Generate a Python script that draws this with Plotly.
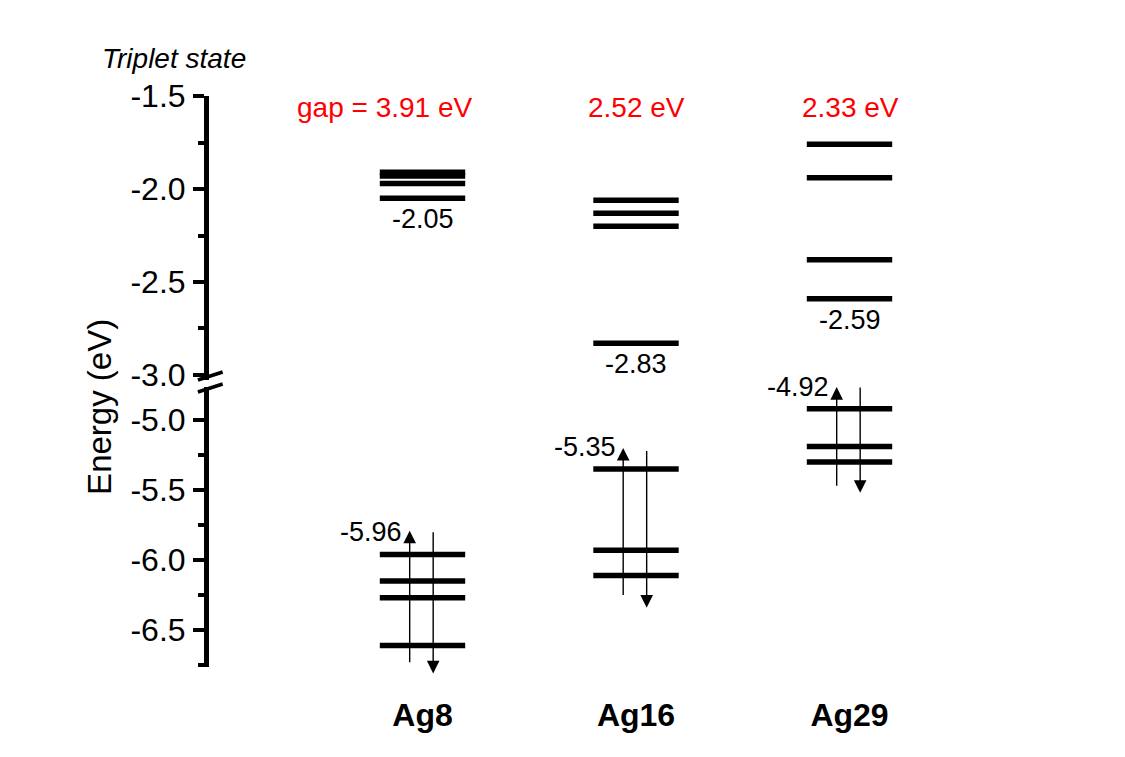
import plotly.graph_objects as go

# Triplet-state frontier orbital energies (eV) of the silver clusters
clusters = ["Ag8", "Ag16", "Ag29"]
lumo_levels = {
    "Ag8": [-1.91, -1.93, -1.97, -2.05],
    "Ag16": [-2.06, -2.13, -2.20, -2.83],
    "Ag29": [-1.76, -1.94, -2.38, -2.59],
}
homo_levels = {
    "Ag8": [-5.96, -6.15, -6.27, -6.61],
    "Ag16": [-5.35, -5.93, -6.11],
    "Ag29": [-4.92, -5.19, -5.30],
}
# labelled frontier levels (lowest LUMO, highest HOMO)
lumo_label = {"Ag8": -2.05, "Ag16": -2.83, "Ag29": -2.59}
homo_label = {"Ag8": -5.96, "Ag16": -5.35, "Ag29": -4.92}

# spin-up / spin-down arrows: (start, end) energies
spin_up = {"Ag8": (-6.74, -5.79), "Ag16": (-6.26, -5.20), "Ag29": (-5.48, -4.765)}
spin_down = {"Ag8": (-5.79, -6.81), "Ag16": (-5.21, -6.34), "Ag29": (-4.757, -5.52)}

upper_ticks = [-1.5, -2.0, -2.5, -3.0]
lower_ticks = [-5.0, -5.5, -6.0, -6.5]

FONT = "Arial, Liberation Sans, sans-serif"
HALF = 0.2          # half width of a level bar (x units)
LEVEL_W = 5.5

fig = go.Figure()

for i, name in enumerate(clusters, start=1):
    xs, ys = [], []
    for e in lumo_levels[name]:
        xs += [i - HALF, i + HALF, None]
        ys += [e, e, None]
    fig.add_trace(go.Scatter(x=xs, y=ys, mode="lines", yaxis="y2",
                             line=dict(color="black", width=LEVEL_W),
                             hoverinfo="skip", showlegend=False))
    xs, ys = [], []
    for e in homo_levels[name]:
        xs += [i - HALF, i + HALF, None]
        ys += [e, e, None]
    fig.add_trace(go.Scatter(x=xs, y=ys, mode="lines", yaxis="y",
                             line=dict(color="black", width=LEVEL_W),
                             hoverinfo="skip", showlegend=False))

annotations = []
for i, name in enumerate(clusters, start=1):
    lu, ho = lumo_label[name], homo_label[name]
    # LUMO value under the lowest unoccupied level
    annotations.append(dict(x=i, y=lu, xref="x", yref="y2", text=f"{lu:.2f}",
                            showarrow=False, xanchor="center", yanchor="top",
                            yshift=-4, font=dict(size=27, color="black")))
    # HOMO value to the upper left of the highest occupied level
    annotations.append(dict(x=i - 0.085, y=ho, xref="x", yref="y", text=f"{ho:.2f}",
                            showarrow=False, xanchor="right", yanchor="bottom",
                            yshift=5, font=dict(size=27, color="black")))
    # HOMO-LUMO gap
    gap = f"{lu - ho:.2f} eV"
    if i == 1:
        gap = "gap = " + gap
    annotations.append(dict(x=i, y=-1.56, xref="x", yref="y2", text=gap,
                            showarrow=False, xanchor="right", yanchor="middle",
                            xshift=51, font=dict(size=28, color="red")))
    # spin arrows
    up0, up1 = spin_up[name]
    dn0, dn1 = spin_down[name]
    annotations.append(dict(x=i - 0.06, y=up1, ax=i - 0.06, ay=up0,
                            xref="x", yref="y", axref="x", ayref="y", text="",
                            showarrow=True, arrowhead=2, arrowsize=1.8,
                            arrowwidth=1.4, arrowcolor="black"))
    annotations.append(dict(x=i + 0.05, y=dn1, ax=i + 0.05, ay=dn0,
                            xref="x", yref="y", axref="x", ayref="y", text="",
                            showarrow=True, arrowhead=2, arrowsize=1.8,
                            arrowwidth=1.4, arrowcolor="black"))

annotations.append(dict(x=-0.041, y=1.066, xref="paper", yref="paper",
                        text="<i>Triplet state</i>", showarrow=False,
                        xanchor="center", yanchor="middle",
                        font=dict(size=28, color="black")))
annotations.append(dict(x=-0.128, y=0.455, xref="paper", yref="paper",
                        text="Energy (eV)", showarrow=False, textangle=-90,
                        xanchor="center", yanchor="middle",
                        font=dict(size=33, color="black")))

# axis break marks
shapes = []
for y0, y1 in [(0.5166, 0.5026), (0.4956, 0.4816)]:
    shapes.append(dict(type="line", xref="paper", yref="paper",
                       x0=-0.013, x1=0.016, y0=y1, y1=y0,
                       line=dict(color="black", width=3.5)))

yaxis_common = dict(
    showline=True, linecolor="black", linewidth=5,
    ticks="outside", ticklen=11, tickwidth=4, tickcolor="black",
    minor=dict(ticks="outside", dtick=0.25, ticklen=6, tickwidth=4,
               tickcolor="black", showgrid=False),
    showgrid=False, zeroline=False,
    tickfont=dict(size=32, color="black", family=FONT),
    ticklabelstandoff=1, anchor="x",
)

fig.update_layout(
    width=1125, height=757,
    margin=dict(l=209, r=62, t=96, b=90),
    paper_bgcolor="white", plot_bgcolor="white",
    font=dict(family=FONT, color="black"),
    xaxis=dict(range=[0, 4], showline=False, showgrid=False, zeroline=False,
               tickvals=[1, 2, 3],
               ticktext=[f"<b>{c}</b>" for c in clusters],
               ticks="", tickfont=dict(size=32, color="black"),
               ticklabelstandoff=26),
    yaxis=dict(domain=[0, 0.4904], range=[-6.764, -4.764],
               tickvals=lower_ticks, ticktext=[f"{v:.1f}" for v in lower_ticks],
               **yaxis_common),
    yaxis2=dict(domain=[0.5026, 1], range=[-3.027, -1.5],
                tickvals=upper_ticks, ticktext=[f"{v:.1f}" for v in upper_ticks],
                **yaxis_common),
    annotations=annotations,
    shapes=shapes,
)

fig.write_html("out.html")
